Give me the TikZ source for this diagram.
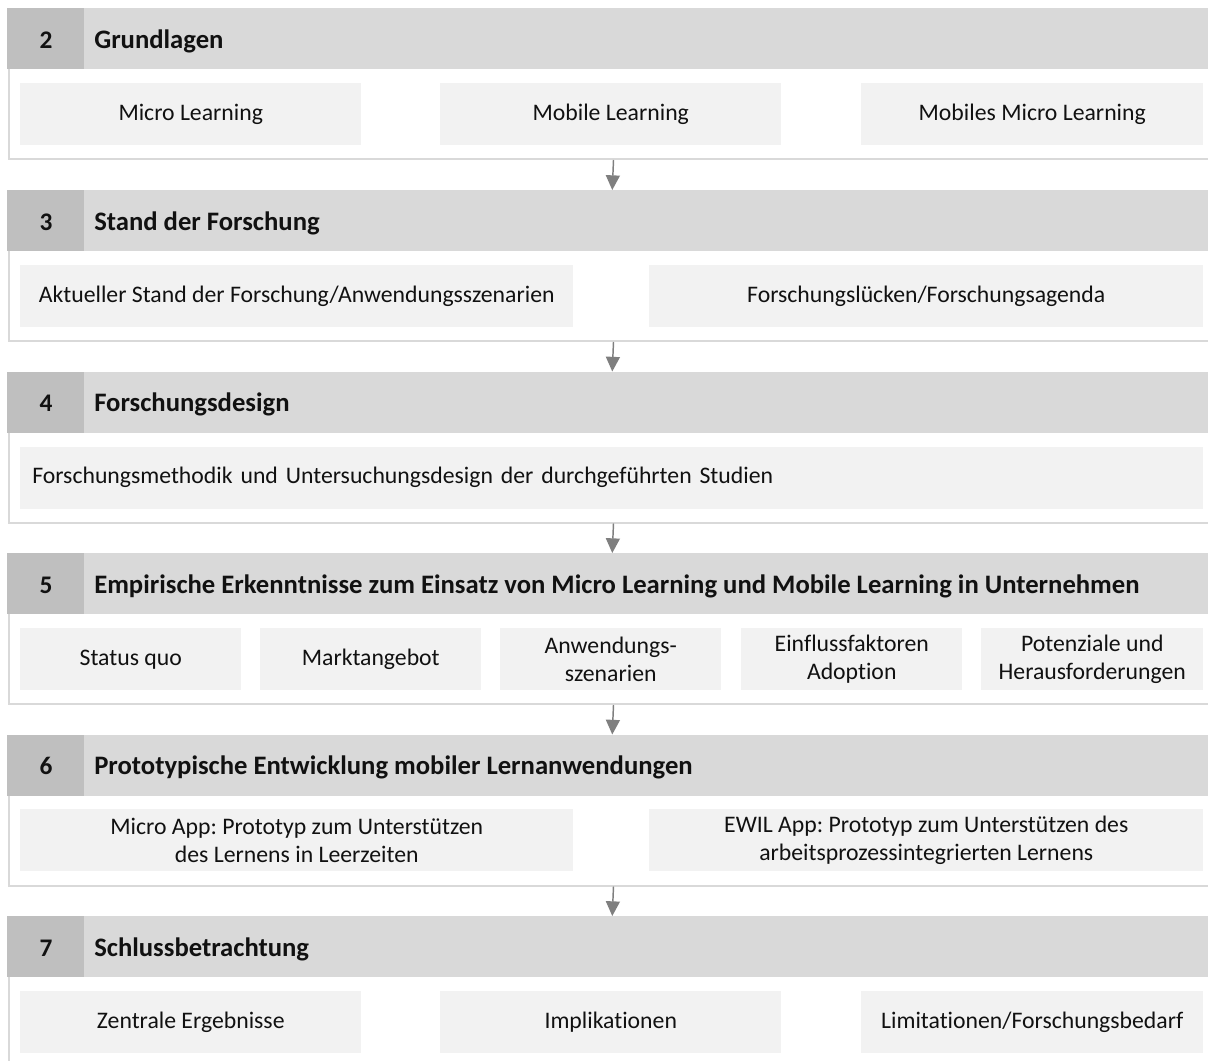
\documentclass[tikz,border=0pt]{standalone}
\usepackage{fontspec}
\setmainfont{Carlito}[Ligatures=CommonOff]
\usetikzlibrary{arrows.meta}
\definecolor{hdrc}{HTML}{D9D9D9}
\definecolor{numc}{HTML}{BFBFBF}
\definecolor{boxc}{HTML}{F2F2F2}
\definecolor{framec}{HTML}{D9D9D9}
\definecolor{arrc}{HTML}{7F7F7F}
\definecolor{txtc}{HTML}{111111}
\newcommand\pxu{0.75pt}
\frenchspacing
\begin{document}
\frenchspacing
\begin{tikzpicture}[x=0.75pt,y=-0.75pt,
  panel/.style={draw=framec, line width=2*\pxu, fill=white, anchor=north west,
    minimum width=1210*\pxu, minimum height=150*\pxu, inner sep=0pt},
  hdr/.style={fill=hdrc, anchor=north west, minimum width=1210*\pxu,
    minimum height=61*\pxu, inner sep=0pt},
  numcell/.style={fill=numc, anchor=north west, minimum width=77*\pxu,
    minimum height=61*\pxu, inner sep=0pt},
  numtext/.style={anchor=base, inner sep=0pt, text=txtc,
    font=\bfseries\fontsize{19}{22}\selectfont},
  title/.style={anchor=base west, inner sep=0pt, text=txtc,
    font=\bfseries\fontsize{20}{24}\selectfont},
  item/.style={fill=boxc, anchor=north west, minimum height=62*\pxu,
    inner sep=0pt, align=center, text=txtc,
    font=\fontsize{17.8}{21}\selectfont},
  conn/.style={draw=arrc, line width=1.1pt, -{Triangle[length=11pt,width=10.5pt]}}
]
\useasboundingbox (0,0) rectangle (1208,1061);
\begin{scope}
\clip (0,0) rectangle (1208,1061);

% ---------- Section 2 ----------
\node[panel] (p2) at (7.5,8) {};
\node[hdr] (h2) at (7,8) {};
\node[numcell] (n2) at (7,8) {};
\node[numtext] (m2) at (46,48) {2};
\node[title] (t2) at (94,48) {Grundlagen};
\node[item, minimum width=341*\pxu] (b21) at (20,83) {Micro Learning};
\node[item, minimum width=341*\pxu] (b22) at (440,83) {Mobile Learning};
\node[item, minimum width=342*\pxu] (b23) at (861,83) {Mobiles Micro Learning};

% ---------- Section 3 ----------
\node[panel] (p3) at (7.5,190) {};
\node[hdr] (h3) at (7,190) {};
\node[numcell] (n3) at (7,190) {};
\node[numtext] (m3) at (46,230) {3};
\node[title] (t3) at (94,230) {Stand der Forschung};
\node[item, minimum width=553*\pxu] (b31) at (20,265) {Aktueller Stand der Forschung/Anwendungsszenarien};
\node[item, minimum width=554*\pxu] (b32) at (649,265) {Forschungslücken/Forschungsagenda};

% ---------- Section 4 ----------
\node[panel] (p4) at (7.5,371.5) {};
\node[hdr] (h4) at (7,371.5) {};
\node[numcell] (n4) at (7,371.5) {};
\node[numtext] (m4) at (46,411.5) {4};
\node[title] (t4) at (94,411.5) {Forschungsdesign};
\node[item, text width=1159*\pxu, inner xsep=12*\pxu, align=left] (b41) at (20,446.5)
  {Forschungsmethodik und Untersuchungsdesign der durchgeführten Studien};

% ---------- Section 5 ----------
\node[panel] (p5) at (7.5,553) {};
\node[hdr] (h5) at (7,553) {};
\node[numcell] (n5) at (7,553) {};
\node[numtext] (m5) at (46,593) {5};
\node[title] (t5) at (94,593) {Empirische Erkenntnisse zum Einsatz von Micro Learning und Mobile Learning in Unternehmen};
\node[item, minimum width=221*\pxu] (b51) at (20,628) {Status quo};
\node[item, minimum width=221*\pxu] (b52) at (260,628) {Marktangebot};
\node[item, minimum width=221*\pxu] (b53) at (500,628) {Anwendungs-\\szenarien};
\node[item, minimum width=221*\pxu] (b54) at (741,628) {Einflussfaktoren\\Adoption};
\node[item, minimum width=222*\pxu] (b55) at (981,628) {Potenziale und\\Herausforderungen};

% ---------- Section 6 ----------
\node[panel] (p6) at (7.5,734.5) {};
\node[hdr] (h6) at (7,734.5) {};
\node[numcell] (n6) at (7,734.5) {};
\node[numtext] (m6) at (46,774.5) {6};
\node[title] (t6) at (94,774.5) {Prototypische Entwicklung mobiler Lernanwendungen};
\node[item, minimum width=553*\pxu] (b61) at (20,809) {Micro App: Prototyp zum Unterstützen\\des Lernens in Leerzeiten};
\node[item, minimum width=554*\pxu] (b62) at (649,809) {EWIL App: Prototyp zum Unterstützen des\\arbeitsprozessintegrierten Lernens};

% ---------- Section 7 ----------
\node[panel] (p7) at (7.5,916) {};
\node[hdr] (h7) at (7,916) {};
\node[numcell] (n7) at (7,916) {};
\node[numtext] (m7) at (46,956) {7};
\node[title] (t7) at (94,956) {Schlussbetrachtung};
\node[item, minimum width=341*\pxu] (b71) at (20,991) {Zentrale Ergebnisse};
\node[item, minimum width=341*\pxu] (b72) at (440,991) {Implikationen};
\node[item, minimum width=342*\pxu] (b73) at (861,991) {Limitationen/Forschungsbedarf};

% ---------- Connectors ----------
\draw[conn] (p2.south) -- (h3.north);
\draw[conn] (p3.south) -- (h4.north);
\draw[conn] (p4.south) -- (h5.north);
\draw[conn] (p5.south) -- (h6.north);
\draw[conn] (p6.south) -- (h7.north);
\end{scope}
\end{tikzpicture}
\end{document}
